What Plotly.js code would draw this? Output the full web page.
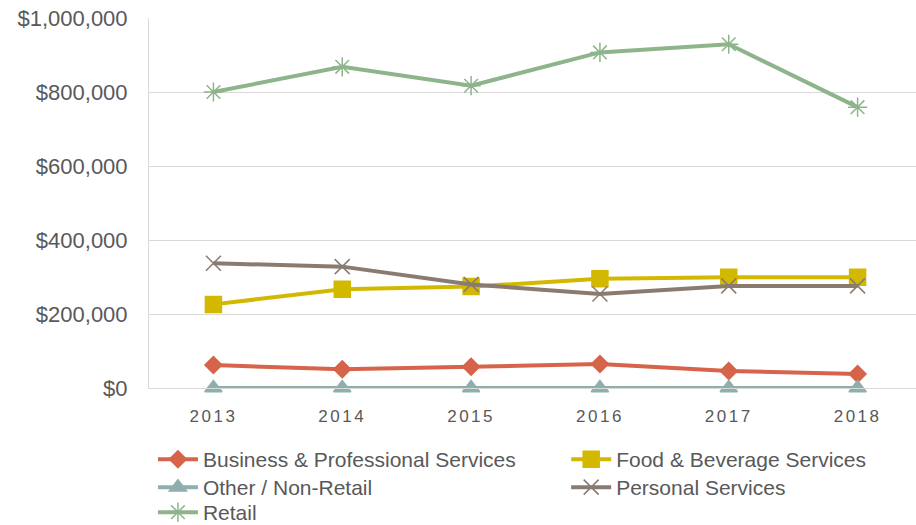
<!DOCTYPE html>
<html><head><meta charset="utf-8">
<script src="https://cdn.plot.ly/plotly-3.0.1.min.js"></script>
<style>
html,body{margin:0;padding:0;overflow:hidden;background:#fff;}
.xtick text{letter-spacing:2.5px;}
</style></head>
<body><div id="chart" style="width:922px;height:525px;"></div>
<script>
const years = ["2013","2014","2015","2016","2017","2018"];
const seriesNames = ["Business & Professional Services","Food & Beverage Services","Other / Non-Retail","Personal Services","Retail"];
const business = [62000, 50500, 57500, 65000, 46000, 38000];
const food = [226000, 267000, 274000, 295000, 299000, 299000];
const other = [0, 0, 0, 0, 0, 0];
const personal = [337000, 328000, 280000, 254000, 276000, 276000];
const retail = [800000, 868000, 817000, 907000, 929000, 759000];

const values = [business, food, other, personal, retail];
const colors = ["#D5644A", "#D2B900", "#8FAFAD", "#8A7B70", "#8EB48B"];
const symbols = ["diamond", "square", "triangle-up", "x-thin-open", "asterisk-open"];
const sizes = [13, 16, 15, 15, 16];
const legendIds = ["legend", "legend2", "legend3", "legend4", "legend5"];

const traces = values.map((v, i) => ({
  type: "scatter", mode: "lines+markers", x: years, y: v, name: seriesNames[i],
  legend: legendIds[i],
  line: {color: colors[i], width: 4},
  marker: {symbol: symbols[i], size: sizes[i], color: colors[i], line: {color: colors[i], width: 1.5}},
  cliponaxis: false
}));

const legendCommon = {orientation: "v", xanchor: "left", yanchor: "top",
  font: {size: 21, color: "#595959"}, itemwidth: 40, tracegroupgap: 0,
  bgcolor: "rgba(0,0,0,0)", borderwidth: 0};
const col1 = 0.0051, col2 = 0.5397;
const row1 = -0.1378, row2 = -0.2135, row3 = -0.2811;

const layout = {
  width: 922, height: 525,
  margin: {l: 149, r: 0, t: 18, b: 137, autoexpand: false},
  paper_bgcolor: "#fff", plot_bgcolor: "#fff",
  font: {family: "Liberation Sans, Arial, sans-serif", color: "#595959", size: 18},
  showlegend: true,
  xaxis: {type: "category", range: [-0.5, 5.5], showgrid: false, zeroline: false,
          showline: true, linecolor: "#D9D9D9", linewidth: 1, ticks: "",
          tickfont: {size: 17, color: "#595959"}, ticklabelstandoff: 13},
  yaxis: {range: [0, 1000000], dtick: 200000, tickformat: "$,.0f", showgrid: true,
          gridcolor: "#D9D9D9", gridwidth: 1, zeroline: false, showline: true,
          linecolor: "#D9D9D9", linewidth: 1, ticks: "", ticklabelstandoff: 16,
          tickfont: {size: 22, color: "#595959"}},
  legend: Object.assign({}, legendCommon, {x: col1, y: row1}),
  legend2: Object.assign({}, legendCommon, {x: col2, y: row1}),
  legend3: Object.assign({}, legendCommon, {x: col1, y: row2}),
  legend4: Object.assign({}, legendCommon, {x: col2, y: row2}),
  legend5: Object.assign({}, legendCommon, {x: col1, y: row3})
};
Plotly.newPlot("chart", traces, layout, {displayModeBar: false, staticPlot: true});
</script></body></html>
